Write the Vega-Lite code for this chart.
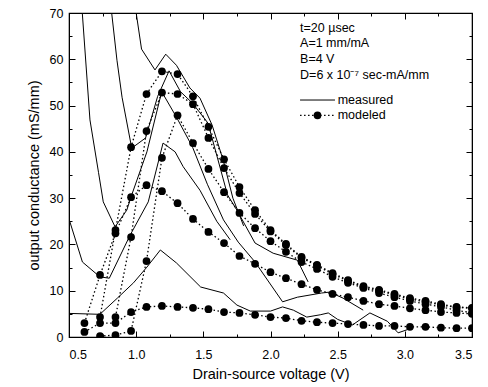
{
  "$schema": "https://vega.github.io/schema/vega-lite/v6.json",
  "width": 403,
  "height": 324,
  "autosize": {"type": "none"},
  "padding": {"left": 69, "top": 13, "right": 16, "bottom": 50},
  "config": {
    "view": {"stroke": "black", "strokeWidth": 1.2},
    "font": "Liberation Sans",
    "axis": {"grid": false, "domainColor": "black", "tickColor": "black", "labelColor": "black", "titleColor": "black", "labelFontSize": 12.5, "titleFontSize": 14.5, "titleFontWeight": "normal"}
  },
  "datasets": {
    "measured": [
      {"curve": "E", "vds": 0.5, "gd": 5.1}, {"curve": "E", "vds": 0.73, "gd": 4.9}, {"curve": "E", "vds": 0.86, "gd": 8.4}, {"curve": "E", "vds": 0.98, "gd": 11.7}, {"curve": "E", "vds": 1.08, "gd": 15.1}, {"curve": "E", "vds": 1.18, "gd": 18.8}, {"curve": "E", "vds": 1.3, "gd": 16.0}, {"curve": "E", "vds": 1.48, "gd": 10.8}, {"curve": "E", "vds": 1.65, "gd": 9.5}, {"curve": "E", "vds": 1.75, "gd": 6.9}, {"curve": "E", "vds": 1.85, "gd": 5.6}, {"curve": "E", "vds": 2.0, "gd": 5.6}, {"curve": "E", "vds": 2.09, "gd": 6.5}, {"curve": "E", "vds": 2.17, "gd": 5.8}, {"curve": "E", "vds": 2.27, "gd": 4.3}, {"curve": "E", "vds": 2.37, "gd": 4.8}, {"curve": "E", "vds": 2.43, "gd": 5.2}, {"curve": "E", "vds": 2.5, "gd": 3.8}, {"curve": "E", "vds": 2.61, "gd": 2.6}, {"curve": "E", "vds": 2.74, "gd": 5.2}, {"curve": "E", "vds": 2.87, "gd": 3.4}, {"curve": "E", "vds": 2.95, "gd": 0.9}, {"curve": "E", "vds": 3.02, "gd": 1.6},
      {"curve": "A", "vds": 0.5, "gd": 25.5}, {"curve": "A", "vds": 0.6, "gd": 16.2}, {"curve": "A", "vds": 0.73, "gd": 13.0}, {"curve": "A", "vds": 0.8, "gd": 12.7}, {"curve": "A", "vds": 0.955, "gd": 22.0}, {"curve": "A", "vds": 1.09, "gd": 29.2}, {"curve": "A", "vds": 1.2, "gd": 41.9}, {"curve": "A", "vds": 1.29, "gd": 40.0}, {"curve": "A", "vds": 1.35, "gd": 36.8}, {"curve": "A", "vds": 1.475, "gd": 31.7}, {"curve": "A", "vds": 1.6, "gd": 25.0}, {"curve": "A", "vds": 1.7, "gd": 21.0},
      {"curve": "B", "vds": 0.594, "gd": 72}, {"curve": "B", "vds": 0.656, "gd": 46.9}, {"curve": "B", "vds": 0.72, "gd": 35.5}, {"curve": "B", "vds": 0.755, "gd": 29.2}, {"curve": "B", "vds": 0.843, "gd": 23.8}, {"curve": "B", "vds": 0.93, "gd": 27.4}, {"curve": "B", "vds": 0.967, "gd": 30.7}, {"curve": "B", "vds": 1.08, "gd": 40.0}, {"curve": "B", "vds": 1.19, "gd": 53.0}, {"curve": "B", "vds": 1.3, "gd": 47.5}, {"curve": "B", "vds": 1.42, "gd": 41.0}, {"curve": "B", "vds": 1.53, "gd": 33.0}, {"curve": "B", "vds": 1.65, "gd": 25.3}, {"curve": "B", "vds": 1.76, "gd": 20.5}, {"curve": "B", "vds": 1.885, "gd": 16.2}, {"curve": "B", "vds": 2.09, "gd": 7.6}, {"curve": "B", "vds": 2.2, "gd": 8.6}, {"curve": "B", "vds": 2.38, "gd": 9.5}, {"curve": "B", "vds": 2.44, "gd": 9.7}, {"curve": "B", "vds": 2.54, "gd": 8.4}, {"curve": "B", "vds": 2.69, "gd": 5.8},
      {"curve": "C", "vds": 0.81, "gd": 72}, {"curve": "C", "vds": 0.857, "gd": 59.8}, {"curve": "C", "vds": 0.895, "gd": 51.8}, {"curve": "C", "vds": 0.967, "gd": 40.8}, {"curve": "C", "vds": 1.07, "gd": 43.0}, {"curve": "C", "vds": 1.16, "gd": 52.0}, {"curve": "C", "vds": 1.245, "gd": 57.5}, {"curve": "C", "vds": 1.33, "gd": 53.0}, {"curve": "C", "vds": 1.42, "gd": 50.5}, {"curve": "C", "vds": 1.535, "gd": 46.2}, {"curve": "C", "vds": 1.68, "gd": 30.7}, {"curve": "C", "vds": 1.75, "gd": 27.4}, {"curve": "C", "vds": 1.885, "gd": 20.3}, {"curve": "C", "vds": 2.02, "gd": 18.1}, {"curve": "C", "vds": 2.2, "gd": 16.6}, {"curve": "C", "vds": 2.28, "gd": 11.9},
      {"curve": "D", "vds": 0.99, "gd": 72}, {"curve": "D", "vds": 1.04, "gd": 62.2}, {"curve": "D", "vds": 1.14, "gd": 57.7}, {"curve": "D", "vds": 1.22, "gd": 61.1}, {"curve": "D", "vds": 1.3, "gd": 58.7}, {"curve": "D", "vds": 1.4, "gd": 53.8}, {"curve": "D", "vds": 1.475, "gd": 51.6}, {"curve": "D", "vds": 1.565, "gd": 45.8}, {"curve": "D", "vds": 1.65, "gd": 38.0}, {"curve": "D", "vds": 1.72, "gd": 30.0}, {"curve": "D", "vds": 1.8, "gd": 24.0}
    ],
    "modeled": [
      {"curve": "M1", "vds": 0.615, "gd": 1.1}, {"curve": "M1", "vds": 0.731, "gd": 3.0}, {"curve": "M1", "vds": 0.846, "gd": 3.0}, {"curve": "M1", "vds": 0.962, "gd": 5.4}, {"curve": "M1", "vds": 1.077, "gd": 6.5}, {"curve": "M1", "vds": 1.192, "gd": 6.7}, {"curve": "M1", "vds": 1.308, "gd": 6.5}, {"curve": "M1", "vds": 1.423, "gd": 6.3}, {"curve": "M1", "vds": 1.538, "gd": 6.0}, {"curve": "M1", "vds": 1.654, "gd": 5.4}, {"curve": "M1", "vds": 1.769, "gd": 5.2}, {"curve": "M1", "vds": 1.885, "gd": 4.8}, {"curve": "M1", "vds": 2.0, "gd": 4.3}, {"curve": "M1", "vds": 2.115, "gd": 4.1}, {"curve": "M1", "vds": 2.231, "gd": 3.5}, {"curve": "M1", "vds": 2.346, "gd": 3.2}, {"curve": "M1", "vds": 2.462, "gd": 3.0}, {"curve": "M1", "vds": 2.577, "gd": 2.8}, {"curve": "M1", "vds": 2.692, "gd": 2.6}, {"curve": "M1", "vds": 2.808, "gd": 2.4}, {"curve": "M1", "vds": 2.923, "gd": 2.4}, {"curve": "M1", "vds": 3.038, "gd": 2.2}, {"curve": "M1", "vds": 3.154, "gd": 2.2}, {"curve": "M1", "vds": 3.269, "gd": 2.0}, {"curve": "M1", "vds": 3.385, "gd": 1.9}, {"curve": "M1", "vds": 3.5, "gd": 1.9},
      {"curve": "M2", "vds": 0.615, "gd": 3.0}, {"curve": "M2", "vds": 0.731, "gd": 13.4}, {"curve": "M2", "vds": 0.846, "gd": 22.4}, {"curve": "M2", "vds": 0.962, "gd": 30.2}, {"curve": "M2", "vds": 1.077, "gd": 32.8}, {"curve": "M2", "vds": 1.192, "gd": 31.5}, {"curve": "M2", "vds": 1.308, "gd": 28.9}, {"curve": "M2", "vds": 1.423, "gd": 25.5}, {"curve": "M2", "vds": 1.538, "gd": 22.7}, {"curve": "M2", "vds": 1.654, "gd": 20.3}, {"curve": "M2", "vds": 1.769, "gd": 17.5}, {"curve": "M2", "vds": 1.885, "gd": 15.8}, {"curve": "M2", "vds": 2.0, "gd": 14.0}, {"curve": "M2", "vds": 2.115, "gd": 12.7}, {"curve": "M2", "vds": 2.231, "gd": 11.4}, {"curve": "M2", "vds": 2.346, "gd": 10.2}, {"curve": "M2", "vds": 2.462, "gd": 9.3}, {"curve": "M2", "vds": 2.577, "gd": 8.6}, {"curve": "M2", "vds": 2.692, "gd": 7.8}, {"curve": "M2", "vds": 2.808, "gd": 7.1}, {"curve": "M2", "vds": 2.923, "gd": 6.7}, {"curve": "M2", "vds": 3.038, "gd": 6.2}, {"curve": "M2", "vds": 3.154, "gd": 5.8}, {"curve": "M2", "vds": 3.269, "gd": 5.4}, {"curve": "M2", "vds": 3.385, "gd": 5.2}, {"curve": "M2", "vds": 3.5, "gd": 5.0},
      {"curve": "M3", "vds": 0.731, "gd": 0.2}, {"curve": "M3", "vds": 0.846, "gd": 0.4}, {"curve": "M3", "vds": 0.962, "gd": 1.3}, {"curve": "M3", "vds": 1.077, "gd": 16.4}, {"curve": "M3", "vds": 1.192, "gd": 38.7}, {"curve": "M3", "vds": 1.308, "gd": 47.9}, {"curve": "M3", "vds": 1.423, "gd": 41.9}, {"curve": "M3", "vds": 1.538, "gd": 36.3}, {"curve": "M3", "vds": 1.654, "gd": 31.3}, {"curve": "M3", "vds": 1.769, "gd": 26.8}, {"curve": "M3", "vds": 1.885, "gd": 23.5}, {"curve": "M3", "vds": 2.0, "gd": 20.7}, {"curve": "M3", "vds": 2.115, "gd": 18.4}, {"curve": "M3", "vds": 2.231, "gd": 16.2}, {"curve": "M3", "vds": 2.346, "gd": 14.7}, {"curve": "M3", "vds": 2.462, "gd": 13.0}, {"curve": "M3", "vds": 2.577, "gd": 11.7}, {"curve": "M3", "vds": 2.692, "gd": 10.6}, {"curve": "M3", "vds": 2.808, "gd": 9.5}, {"curve": "M3", "vds": 2.923, "gd": 8.6}, {"curve": "M3", "vds": 3.038, "gd": 7.8}, {"curve": "M3", "vds": 3.154, "gd": 7.1}, {"curve": "M3", "vds": 3.269, "gd": 6.5}, {"curve": "M3", "vds": 3.385, "gd": 5.8}, {"curve": "M3", "vds": 3.5, "gd": 5.2},
      {"curve": "M4", "vds": 0.846, "gd": 4.3}, {"curve": "M4", "vds": 0.962, "gd": 21.6}, {"curve": "M4", "vds": 1.077, "gd": 44.5}, {"curve": "M4", "vds": 1.192, "gd": 52.8}, {"curve": "M4", "vds": 1.308, "gd": 52.5}, {"curve": "M4", "vds": 1.423, "gd": 50.3}, {"curve": "M4", "vds": 1.538, "gd": 43.0}, {"curve": "M4", "vds": 1.654, "gd": 36.5}, {"curve": "M4", "vds": 1.769, "gd": 31.1}, {"curve": "M4", "vds": 1.885, "gd": 26.6}, {"curve": "M4", "vds": 2.0, "gd": 22.8}, {"curve": "M4", "vds": 2.115, "gd": 19.9}, {"curve": "M4", "vds": 2.231, "gd": 17.1}, {"curve": "M4", "vds": 2.346, "gd": 15.4}, {"curve": "M4", "vds": 2.462, "gd": 13.6}, {"curve": "M4", "vds": 2.577, "gd": 12.1}, {"curve": "M4", "vds": 2.692, "gd": 10.8}, {"curve": "M4", "vds": 2.808, "gd": 10.0}, {"curve": "M4", "vds": 2.923, "gd": 9.1}, {"curve": "M4", "vds": 3.038, "gd": 8.2}, {"curve": "M4", "vds": 3.154, "gd": 7.6}, {"curve": "M4", "vds": 3.269, "gd": 6.9}, {"curve": "M4", "vds": 3.385, "gd": 6.4}, {"curve": "M4", "vds": 3.5, "gd": 6.2},
      {"curve": "M5", "vds": 0.731, "gd": 4.3}, {"curve": "M5", "vds": 0.846, "gd": 23.1}, {"curve": "M5", "vds": 0.962, "gd": 41.0}, {"curve": "M5", "vds": 1.077, "gd": 52.5}, {"curve": "M5", "vds": 1.192, "gd": 57.4}, {"curve": "M5", "vds": 1.308, "gd": 56.8}, {"curve": "M5", "vds": 1.423, "gd": 52.0}, {"curve": "M5", "vds": 1.538, "gd": 45.4}, {"curve": "M5", "vds": 1.654, "gd": 38.4}, {"curve": "M5", "vds": 1.769, "gd": 32.4}, {"curve": "M5", "vds": 1.885, "gd": 27.4}, {"curve": "M5", "vds": 2.0, "gd": 23.1}, {"curve": "M5", "vds": 2.115, "gd": 20.1}, {"curve": "M5", "vds": 2.231, "gd": 17.3}, {"curve": "M5", "vds": 2.346, "gd": 15.6}, {"curve": "M5", "vds": 2.462, "gd": 13.8}, {"curve": "M5", "vds": 2.577, "gd": 12.3}, {"curve": "M5", "vds": 2.692, "gd": 11.0}, {"curve": "M5", "vds": 2.808, "gd": 10.2}, {"curve": "M5", "vds": 2.923, "gd": 9.3}, {"curve": "M5", "vds": 3.038, "gd": 8.4}, {"curve": "M5", "vds": 3.154, "gd": 7.8}, {"curve": "M5", "vds": 3.269, "gd": 7.1}, {"curve": "M5", "vds": 3.385, "gd": 6.5}, {"curve": "M5", "vds": 3.5, "gd": 6.3}
    ]
  },
  "resolve": {"axis": {"x": "independent", "y": "independent"}},
  "layer": [
    {
      "data": {"name": "measured"},
      "mark": {"type": "line", "color": "black", "strokeWidth": 1, "clip": true},
      "encoding": {
        "x": {"field": "vds", "type": "quantitative", "scale": {"domain": [0.5, 3.5], "nice": false, "zero": false},
          "axis": {"orient": "bottom", "title": "Drain-source voltage (V)", "values": [0.5, 0.75, 1, 1.25, 1.5, 1.75, 2, 2.25, 2.5, 2.75, 3, 3.25, 3.5],
            "labelExpr": "abs(datum.value*2 - round(datum.value*2)) < 0.001 ? format(datum.value, '.1f') : ''",
            "tickSize": {"condition": {"test": "abs(datum.value*2 - round(datum.value*2)) < 0.001", "value": -6}, "value": -3},
            "labelPadding": 17, "titlePadding": 7}},
        "y": {"field": "gd", "type": "quantitative", "scale": {"domain": [0, 70], "nice": false},
          "axis": {"orient": "left", "title": "output conductance (mS/mm)", "values": [0, 5, 10, 15, 20, 25, 30, 35, 40, 45, 50, 55, 60, 65, 70],
            "labelExpr": "datum.value % 10 == 0 ? datum.label : ''",
            "tickSize": {"condition": {"test": "datum.value % 10 == 0", "value": -6}, "value": -3},
            "labelPadding": 12, "titlePadding": 8}},
        "detail": {"field": "curve"}
      }
    },
    {
      "data": {"name": "modeled"},
      "mark": {"type": "line", "color": "black", "strokeWidth": 1.3, "strokeDash": [1.5, 2.5], "clip": true},
      "encoding": {
        "x": {"field": "vds", "type": "quantitative", "scale": {"domain": [0.5, 3.5], "nice": false, "zero": false},
          "axis": {"orient": "top", "title": null, "values": [0.5, 0.75, 1, 1.25, 1.5, 1.75, 2, 2.25, 2.5, 2.75, 3, 3.25, 3.5], "labels": false,
            "tickSize": {"condition": {"test": "abs(datum.value*2 - round(datum.value*2)) < 0.001", "value": -6}, "value": -3}}},
        "y": {"field": "gd", "type": "quantitative", "scale": {"domain": [0, 70], "nice": false},
          "axis": {"orient": "right", "title": null, "values": [0, 5, 10, 15, 20, 25, 30, 35, 40, 45, 50, 55, 60, 65, 70], "labels": false,
            "tickSize": {"condition": {"test": "datum.value % 10 == 0", "value": -6}, "value": -3}}},
        "detail": {"field": "curve"}
      }
    },
    {
      "data": {"name": "modeled"},
      "mark": {"type": "point", "filled": true, "color": "black", "opacity": 1, "size": 60, "clip": true},
      "encoding": {
        "x": {"field": "vds", "type": "quantitative", "scale": {"domain": [0.5, 3.5], "nice": false, "zero": false}, "axis": null},
        "y": {"field": "gd", "type": "quantitative", "scale": {"domain": [0, 70], "nice": false}, "axis": null}
      }
    },
    {
      "data": {"values": [{}]},
      "mark": {"type": "text", "align": "left", "baseline": "middle", "fontSize": 12.5, "lineHeight": 15.7, "color": "black"},
      "encoding": {
        "x": {"datum": 2.22, "type": "quantitative", "axis": null},
        "y": {"datum": 66.8, "type": "quantitative", "axis": null},
        "text": {"value": ["t=20 µsec", "A=1 mm/mA", "B=4 V", "D=6 x 10⁻⁷ sec-mA/mm"]}
      }
    },
    {
      "data": {"values": [{}]},
      "mark": {"type": "rule", "color": "black", "strokeWidth": 1},
      "encoding": {
        "x": {"datum": 2.22, "type": "quantitative", "axis": null},
        "x2": {"datum": 2.48},
        "y": {"datum": 51.2, "type": "quantitative", "axis": null}
      }
    },
    {
      "data": {"values": [{}]},
      "mark": {"type": "rule", "color": "black", "strokeWidth": 1.3, "strokeDash": [1.5, 2.5]},
      "encoding": {
        "x": {"datum": 2.22, "type": "quantitative", "axis": null},
        "x2": {"datum": 2.48},
        "y": {"datum": 47.9, "type": "quantitative", "axis": null}
      }
    },
    {
      "data": {"values": [{}]},
      "mark": {"type": "point", "filled": true, "color": "black", "opacity": 1, "size": 60},
      "encoding": {
        "x": {"datum": 2.35, "type": "quantitative", "axis": null},
        "y": {"datum": 47.9, "type": "quantitative", "axis": null}
      }
    },
    {
      "data": {"values": [{}]},
      "mark": {"type": "text", "align": "left", "baseline": "middle", "fontSize": 12.5, "color": "black"},
      "encoding": {
        "x": {"datum": 2.5, "type": "quantitative", "axis": null},
        "y": {"datum": 51.2, "type": "quantitative", "axis": null},
        "text": {"value": "measured"}
      }
    },
    {
      "data": {"values": [{}]},
      "mark": {"type": "text", "align": "left", "baseline": "middle", "fontSize": 12.5, "color": "black"},
      "encoding": {
        "x": {"datum": 2.5, "type": "quantitative", "axis": null},
        "y": {"datum": 47.9, "type": "quantitative", "axis": null},
        "text": {"value": "modeled"}
      }
    }
  ]
}
